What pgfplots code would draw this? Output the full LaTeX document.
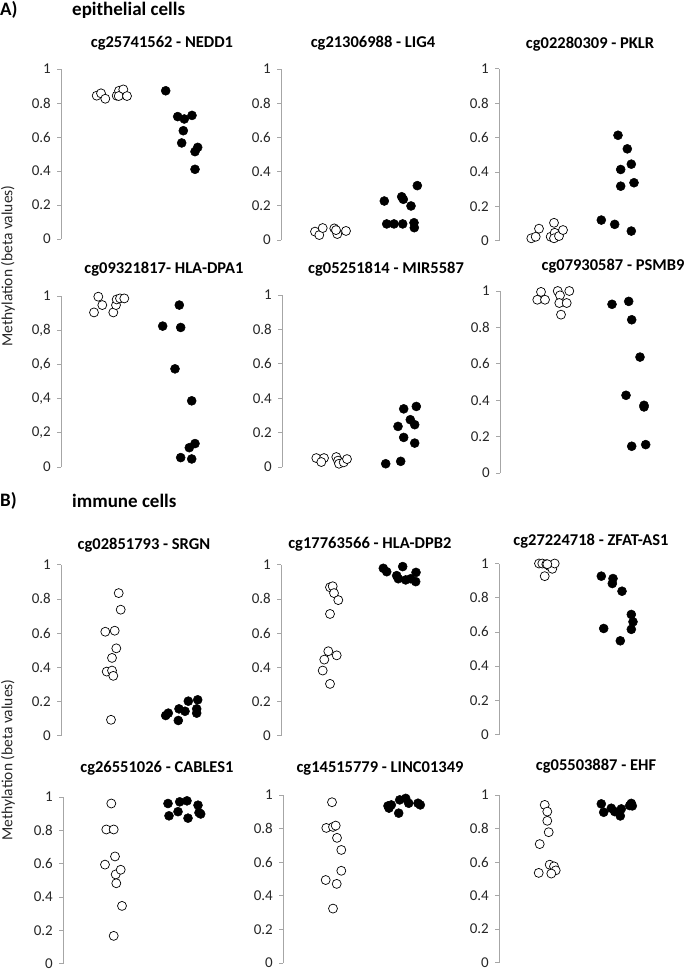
\documentclass[border=0pt]{standalone}
\usepackage{pgfplots}
\pgfplotsset{compat=1.18}
\usepackage{fontspec}
\setmainfont{Carlito}
\definecolor{axgray}{HTML}{A6A6A6}
\definecolor{tickc}{HTML}{262626}
\pgfplotsset{
  every axis title shift=0pt,
  panel/.style={scale only axis, width=180pt, xmin=0, xmax=180, ymin=0, ymax=1,
    axis x line=none, axis y line*=left,
    ytick={0,0.2,0.4,0.6,0.8,1}, yticklabels={0,0.2,0.4,0.6,0.8,1},
    tick align=outside, major tick length=4pt,
    axis line style={draw=axgray, line width=0.8pt},
    every tick/.style={draw=axgray, line width=0.8pt},
    yticklabel style={font=\fontsize{15}{15}\selectfont, text=tickc, inner sep=1pt, xshift=-5pt},
    title style={font=\bfseries\fontsize{16.5}{16.5}\selectfont, anchor=center},
    clip=false, anchor=south west},
  openm/.style={only marks, mark=*, mark size=4.5pt, mark options={fill=white, draw=black, line width=0.7pt}},
  fillm/.style={only marks, mark=*, mark size=4.5pt, mark options={fill=black, draw=black, line width=0.5pt}},
}
\begin{document}
\begin{tikzpicture}
\useasboundingbox (0pt,0pt) rectangle (685pt,-972pt);
% section headers
\node[anchor=west, font=\bfseries\fontsize{19}{19}\selectfont, inner sep=0pt] at (0pt,-10pt) {A)};
\node[anchor=west, font=\bfseries\fontsize{19}{19}\selectfont, inner sep=0pt] at (72pt,-10pt) {epithelial cells};
\node[anchor=west, font=\bfseries\fontsize{19}{19}\selectfont, inner sep=0pt] at (0pt,-501pt) {B)};
\node[anchor=west, font=\bfseries\fontsize{19}{19}\selectfont, inner sep=0pt] at (72pt,-501pt) {immune cells};
\node[rotate=90, font=\fontsize{15.5}{15.5}\selectfont, text=tickc, inner sep=0pt] at (8pt,-266pt) {Methylation (beta values)};
\node[rotate=90, font=\fontsize{15.5}{15.5}\selectfont, text=tickc, inner sep=0pt] at (8pt,-760pt) {Methylation (beta values)};

% ---------- Row 1 ----------
\begin{axis}[panel, at={(61pt,-239pt)}, height=170pt, title={cg25741562 - NEDD1}, title style={at={(0.561,1)}, yshift=26pt}]
\addplot[openm] coordinates {(35.7,0.843)(40,0.857)(44.3,0.825)(55.7,0.843)(58,0.872)(62.3,0.880)(57.7,0.841)(66,0.841)};
\addplot[fillm] coordinates {(104.7,0.872)(116.7,0.720)(123.3,0.706)(131,0.727)(122.3,0.637)(120.7,0.565)(136.7,0.539)(134,0.514)(134,0.410)};
\end{axis}
\begin{axis}[panel, at={(281pt,-240pt)}, height=171pt, title={cg21306988 - LIG4}, title style={at={(0.511,1)}, yshift=26pt}]
\addplot[openm] coordinates {(34,0.049)(38.3,0.029)(41.7,0.070)(53.3,0.068)(56.3,0.035)(55,0.058)(65,0.053)};
\addplot[fillm] coordinates {(103.3,0.228)(120.7,0.253)(122.3,0.238)(136.3,0.318)(130,0.199)(105.7,0.094)(113,0.094)(121.7,0.094)(133,0.101)(133.3,0.072)};
\end{axis}
\begin{axis}[panel, at={(499pt,-240.7pt)}, height=172pt, title={cg02280309 - PKLR}, title style={at={(0.506,1)}, yshift=25pt}]
\addplot[openm] coordinates {(32.3,0.014)(36.7,0.023)(40,0.070)(51.7,0.023)(55,0.104)(55.7,0.046)(55,0.014)(60,0.027)(64,0.062)};
\addplot[fillm] coordinates {(119,0.613)(128.3,0.534)(132.3,0.445)(121.7,0.414)(135,0.337)(121.7,0.317)(102.3,0.120)(115.7,0.095)(132.3,0.056)};
\end{axis}

% ---------- Row 2 ----------
\begin{axis}[panel, at={(61pt,-467pt)}, height=171pt, yticklabels={0,{0,2},{0,4},{0,6},{0,8},1}, title={cg09321817- HLA-DPA1}, title style={at={(0.572,1)}, yshift=27pt}]
\addplot[openm] coordinates {(33,0.904)(37.3,0.996)(41.3,0.947)(52.3,0.904)(55,0.947)(55.7,0.980)(59,0.986)(63.3,0.986)};
\addplot[fillm] coordinates {(118.3,0.947)(101.7,0.824)(119.7,0.816)(114,0.574)(130.7,0.387)(134,0.137)(128.3,0.113)(119.7,0.055)(130.7,0.047)};
\end{axis}
\begin{axis}[panel, at={(282pt,-467pt)}, height=172pt, title={cg05251814 - MIR5587}, title style={at={(0.578,1)}, yshift=26pt}]
\addplot[openm] coordinates {(34.3,0.052)(42,0.052)(39.3,0.029)(54.3,0.058)(56,0.037)(57,0.019)(61.7,0.027)(65,0.046)};
\addplot[fillm] coordinates {(103.7,0.019)(118.7,0.033)(121.7,0.338)(134.3,0.352)(128.3,0.275)(116,0.236)(132.7,0.246)(121.7,0.172)(132.7,0.139)};
\end{axis}
\begin{axis}[panel, at={(500pt,-473pt)}, height=182pt, title={cg07930587 - PSMB9}, title style={at={(0.628,1)}, yshift=25pt}]
\addplot[openm] coordinates {(41,0.995)(37.3,0.952)(45,0.952)(57.7,1.0)(69.3,1.0)(60,0.976)(59.3,0.934)(66.7,0.934)(61,0.870)};
\addplot[fillm] coordinates {(112,0.927)(128.7,0.943)(131.7,0.842)(140,0.637)(126,0.427)(144,0.372)(144,0.363)(131.7,0.147)(145.7,0.156)};
\end{axis}

% ---------- Row 3 ----------
\begin{axis}[panel, at={(61pt,-735.7pt)}, height=171pt, title={cg02851793 - SRGN}, title style={at={(0.461,1)}, yshift=20pt}]
\addplot[openm] coordinates {(57.7,0.834)(59.7,0.737)(44.3,0.608)(53.7,0.614)(55.3,0.511)(51,0.455)(45.7,0.375)(51,0.381)(52.3,0.350)(50,0.093)};
\addplot[fillm] coordinates {(104.7,0.118)(107.3,0.132)(117.3,0.089)(118,0.157)(124,0.143)(127.3,0.202)(136.7,0.210)(135.7,0.157)(135.7,0.132)};
\end{axis}
\begin{axis}[panel, at={(281pt,-735.7pt)}, height=171pt, title={cg17763566 - HLA-DPB2}, title style={at={(0.494,1)}, yshift=20pt}]
\addplot[openm] coordinates {(49,0.868)(51.7,0.874)(53,0.834)(57.3,0.793)(49,0.712)(47.3,0.494)(55.7,0.470)(43.3,0.445)(41.7,0.381)(49,0.303)};
\addplot[fillm] coordinates {(102.3,0.979)(105.7,0.959)(121.7,0.989)(115.7,0.936)(124.7,0.911)(135,0.955)(134.7,0.901)(117.3,0.918)(129.7,0.918)};
\end{axis}
\begin{axis}[panel, at={(499pt,-734.5pt)}, height=171pt, title={cg27224718 - ZFAT-AS1}, title style={at={(0.511,1)}, yshift=22pt}]
\addplot[openm] coordinates {(40,1.0)(43.3,1.0)(45.7,0.926)(47.3,0.996)(50.7,0.984)(53.3,0.969)(55.7,1.0)(48.3,0.996)};
\addplot[fillm] coordinates {(102.3,0.926)(114,0.912)(113.3,0.883)(123,0.838)(132.3,0.702)(134,0.659)(132.3,0.615)(104.7,0.620)(121.3,0.548)};
\end{axis}

% ---------- Row 4 ----------
\begin{axis}[panel, at={(63pt,-963.5pt)}, height=166.5pt, title={cg26551026 - CABLES1}, title style={at={(0.522,1)}, yshift=29pt}]
\addplot[openm] coordinates {(48.3,0.961)(43.3,0.805)(50.7,0.805)(52,0.643)(42,0.594)(52.7,0.535)(57.7,0.563)(53.3,0.482)(59,0.346)(50.7,0.166)};
\addplot[fillm] coordinates {(105,0.961)(116.7,0.971)(124,0.977)(135,0.951)(106,0.887)(115,0.912)(125,0.873)(136,0.906)(137.7,0.898)};
\end{axis}
\begin{axis}[panel, at={(283pt,-963pt)}, height=168pt, title={cg14515779 - LINC01349}, title style={at={(0.539,1)}, yshift=27pt}]
\addplot[openm] coordinates {(49,0.957)(43.3,0.804)(50,0.810)(52.7,0.818)(54,0.745)(58.3,0.673)(58.3,0.549)(42.7,0.494)(53.7,0.471)(50,0.324)};
\addplot[fillm] coordinates {(105,0.935)(106,0.922)(108.3,0.941)(116.7,0.971)(122.7,0.980)(125.7,0.951)(115.7,0.892)(135,0.951)(137.3,0.941)};
\end{axis}
\begin{axis}[panel, at={(499pt,-962.5pt)}, height=167.5pt, title={cg05503887 - EHF}, title style={at={(0.539,1)}, yshift=29pt}]
\addplot[openm] coordinates {(45.7,0.941)(48.3,0.901)(48.3,0.846)(49.7,0.778)(40.7,0.707)(50.7,0.584)(55,0.574)(56.7,0.550)(52.3,0.531)(39.7,0.535)};
\addplot[fillm] coordinates {(102.3,0.947)(104.7,0.897)(112.3,0.921)(115.7,0.901)(122.3,0.917)(121.3,0.875)(132.3,0.950)(133.3,0.935)(130.7,0.937)};
\end{axis}
\end{tikzpicture}
\end{document}
